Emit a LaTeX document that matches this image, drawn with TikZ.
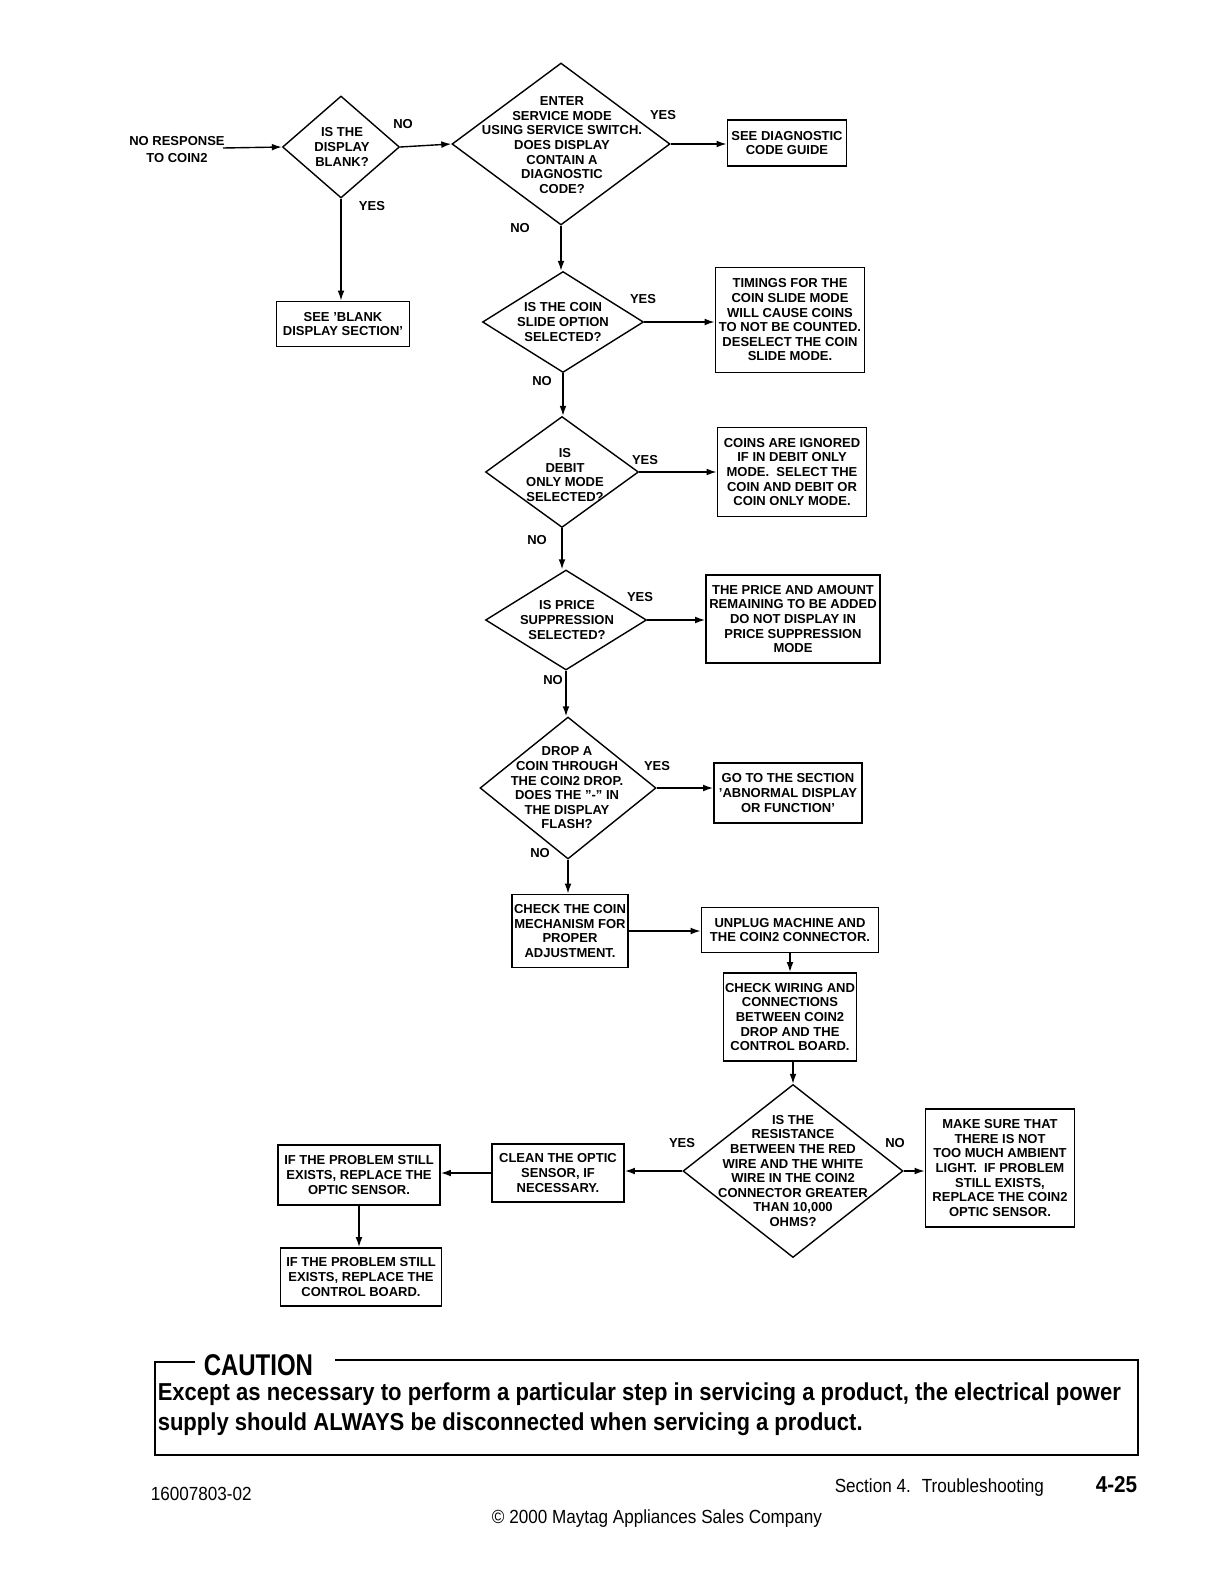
\documentclass[tikz,border=0pt]{standalone}
\usepackage{fontspec}
\setmainfont{Liberation Sans}
\newfontfamily\condfont[FakeStretch=0.8]{Liberation Sans}
\newfontfamily\narrowfont[FakeStretch=0.9]{Liberation Sans}
\usetikzlibrary{shapes.geometric,arrows.meta}

\tikzset{every picture/.style={line width=0.75pt}}
\tikzset{
  flow/.style={font=\fontsize{6.5}{7.3}\selectfont\bfseries, align=center, inner sep=0pt},
  dia/.style={diamond, draw, line width=0.7pt, inner sep=0pt},
  box/.style={draw, line width=0.9pt, inner sep=0pt, flow},
  arr/.style={-{Latex[length=5pt,width=3.4pt]}, line width=0.7pt}
}

\begin{document}
\begin{tikzpicture}[x=0.5pt,y=0.5pt,yscale=-1,xscale=1]
\useasboundingbox (0,0) rectangle (1224,1584);

%Shape: Diamond [d1]
\node[dia, minimum width=58.5pt, minimum height=51pt] (d1) at (341,147) {};
%Shape: Diamond [d2]
\node[dia, minimum width=109pt, minimum height=81pt] (d2) at (561,144) {};
%Shape: Diamond [d3]
\node[dia, minimum width=80.5pt, minimum height=50.5pt] (d3) at (563,322) {};
%Shape: Diamond [d4]
\node[dia, minimum width=76.5pt, minimum height=55.5pt] (d4) at (562,472) {};
%Shape: Diamond [d5]
\node[dia, minimum width=80.5pt, minimum height=50pt] (d5) at (566,620) {};
%Shape: Diamond [d6]
\node[dia, minimum width=88pt, minimum height=71pt] (d6) at (568,788) {};
%Shape: Diamond [d7]
\node[dia, minimum width=110pt, minimum height=86.5pt] (d7) at (793,1171) {};

%Shape: Rectangle [b1 .. b13]
\node[box, minimum width=66.5pt, minimum height=22.5pt] (b1) at (343,324) {SEE 'BLANK\\DISPLAY SECTION'};
\node[box, minimum width=59.5pt, minimum height=23pt] (b2) at (787,143) {SEE DIAGNOSTIC\\CODE GUIDE};
\node[box, minimum width=74.5pt, minimum height=52.5pt] (b3) at (790,320) {TIMINGS FOR THE\\COIN SLIDE MODE\\WILL CAUSE COINS\\TO NOT BE COUNTED.\\DESELECT THE COIN\\SLIDE MODE.};
\node[box, minimum width=74.5pt, minimum height=44.5pt] (b4) at (792,472) {COINS ARE IGNORED\\IF IN DEBIT ONLY\\MODE.~ SELECT THE\\COIN AND DEBIT OR\\COIN ONLY MODE.};
\node[box, minimum width=87pt, minimum height=44pt] (b5) at (793,619) {THE PRICE AND AMOUNT\\REMAINING TO BE ADDED\\DO NOT DISPLAY IN\\PRICE SUPPRESSION\\MODE};
\node[box, minimum width=74pt, minimum height=30pt] (b6) at (788,793) {GO TO THE SECTION\\'ABNORMAL DISPLAY\\OR FUNCTION'};
\node[box, minimum width=58pt, minimum height=36.5pt] (b7) at (570,931) {CHECK THE COIN\\MECHANISM FOR\\PROPER\\ADJUSTMENT.};
\node[box, minimum width=88.5pt, minimum height=22.5pt] (b8) at (790,930) {UNPLUG MACHINE AND\\THE COIN2 CONNECTOR.};
\node[box, minimum width=66.5pt, minimum height=44pt] (b9) at (790,1017) {CHECK WIRING AND\\CONNECTIONS\\BETWEEN COIN2\\DROP AND THE\\CONTROL BOARD.};
\node[box, minimum width=74.5pt, minimum height=59pt] (b10) at (1000,1168) {MAKE SURE THAT\\THERE IS NOT\\TOO MUCH AMBIENT\\LIGHT.~ IF PROBLEM\\STILL EXISTS,\\REPLACE THE COIN2\\OPTIC SENSOR.};
\node[box, minimum width=66pt, minimum height=29pt] (b11) at (558,1173) {CLEAN THE OPTIC\\SENSOR, IF\\NECESSARY.};
\node[box, minimum width=81pt, minimum height=30pt] (b12) at (359,1175) {IF THE PROBLEM STILL\\EXISTS, REPLACE THE\\OPTIC SENSOR.};
\node[box, minimum width=80.5pt, minimum height=29pt] (b13) at (361,1277) {IF THE PROBLEM STILL\\EXISTS, REPLACE THE\\CONTROL BOARD.};

% Text Node
\node[flow, font=\fontsize{6.5}{8.5}\selectfont\bfseries] (start) at (177,150) {NO RESPONSE\\TO COIN2};
\coordinate (s0) at (223,148);
% Text Node
\node[flow] (d1t) at (342,147) {IS THE\\DISPLAY\\BLANK?};
\node[flow] (d2t) at (562,145) {ENTER\\SERVICE MODE\\USING SERVICE SWITCH.\\DOES DISPLAY\\CONTAIN A\\DIAGNOSTIC\\CODE?};
\node[flow] (d3t) at (563,322) {IS THE COIN\\SLIDE OPTION\\SELECTED?};
\node[flow] (d4t) at (565,475) {IS\\DEBIT\\ONLY MODE\\SELECTED?};
\node[flow] (d5t) at (567,620) {IS PRICE\\SUPPRESSION\\SELECTED?};
\node[flow] (d6t) at (567,788) {DROP A\\COIN THROUGH\\THE COIN2 DROP.\\DOES THE "-" IN\\THE DISPLAY\\FLASH?};
\node[flow] (d7t) at (793,1171) {IS THE\\RESISTANCE\\BETWEEN THE RED\\WIRE AND THE WHITE\\WIRE IN THE COIN2\\CONNECTOR GREATER\\THAN 10,000\\OHMS?};

% Text Node
\node[flow] (l1n) at (403,124) {NO};
\node[flow] (l1y) at (372,206) {YES};
\node[flow] (l2y) at (663,115) {YES};
\node[flow] (l2n) at (520,228) {NO};
\node[flow] (l3y) at (643,299) {YES};
\node[flow] (l3n) at (542,381) {NO};
\node[flow] (l4y) at (645,460) {YES};
\node[flow] (l4n) at (537,540) {NO};
\node[flow] (l5y) at (640,597) {YES};
\node[flow] (l5n) at (553,680) {NO};
\node[flow] (l6y) at (657,766) {YES};
\node[flow] (l6n) at (540,853) {NO};
\node[flow] (l7y) at (682,1143) {YES};
\node[flow] (l7n) at (895,1143) {NO};

%Straight Lines
\draw[arr] (s0) -- (d1.west);
\draw[arr] (d1.east) -- (d2.west);
\draw[arr] (d1.south) -- (d1.south |- b1.north);
\draw[arr] (d2.east) -- (d2.east -| b2.west);
\draw[arr] (d2.south) -- (d2.south |- d3.north);
\draw[arr] (d3.east) -- (d3.east -| b3.west);
\draw[arr] (d3.south) -- (d3.south |- d4.north);
\draw[arr] (d4.east) -- (d4.east -| b4.west);
\draw[arr] (d4.south) -- (d4.south |- d5.north);
\draw[arr] (d5.east) -- (d5.east -| b5.west);
\draw[arr] (d5.south) -- (d5.south |- d6.north);
\draw[arr] (d6.east) -- (d6.east -| b6.west);
\draw[arr] (d6.south) -- (d6.south |- b7.north);
\draw[arr] (b7.east) -- (b7.east -| b8.west);
\draw[arr] (b9.north |- b8.south) -- (b9.north);
\draw[arr] (b9.south -| d7.north) -- (d7.north);
\draw[arr] (d7.east) -- (d7.east -| b10.west);
\draw[arr] (d7.west) -- (d7.west -| b11.east);
\draw[arr] (b11.west) -- (b11.west -| b12.east);
\draw[arr] (b12.south) -- (b12.south |- b13.north);

%Shape: Caution frame
\draw[line width=1.2pt] (195,1362) -- (155,1362) -- (155,1455) -- (1138,1455) -- (1138,1360) -- (335,1360);
% Text Node
\node[anchor=west, inner sep=0pt, font=\condfont\fontsize{15}{18}\selectfont\bfseries] (caut) at (203,1365) {CAUTION};
\node[anchor=west, inner sep=0pt, align=left, font=\narrowfont\fontsize{12.25}{15}\selectfont\bfseries] (cbody) at (157,1409) {Except as necessary to perform a particular step in servicing a product, the electrical power\\supply should ALWAYS be disconnected when servicing a product.};

% Text Node
\node[anchor=west, inner sep=0pt, font=\narrowfont\fontsize{9.5}{11}\selectfont] (docno) at (150,1494) {16007803-02};
\node[anchor=west, inner sep=0pt, font=\narrowfont\fontsize{9.5}{11}\selectfont] (sect) at (834,1488) {Section 4.~ Troubleshooting};
\node[anchor=east, inner sep=0pt, font=\narrowfont\fontsize{11.5}{13}\selectfont\bfseries] (pageno) at (1138,1485) {4-25};
\node[inner sep=0pt, font=\narrowfont\fontsize{9.5}{11}\selectfont] (copy) at (657,1519) {\textcopyright{} 2000 Maytag Appliances Sales Company};

\end{tikzpicture}
\end{document}
